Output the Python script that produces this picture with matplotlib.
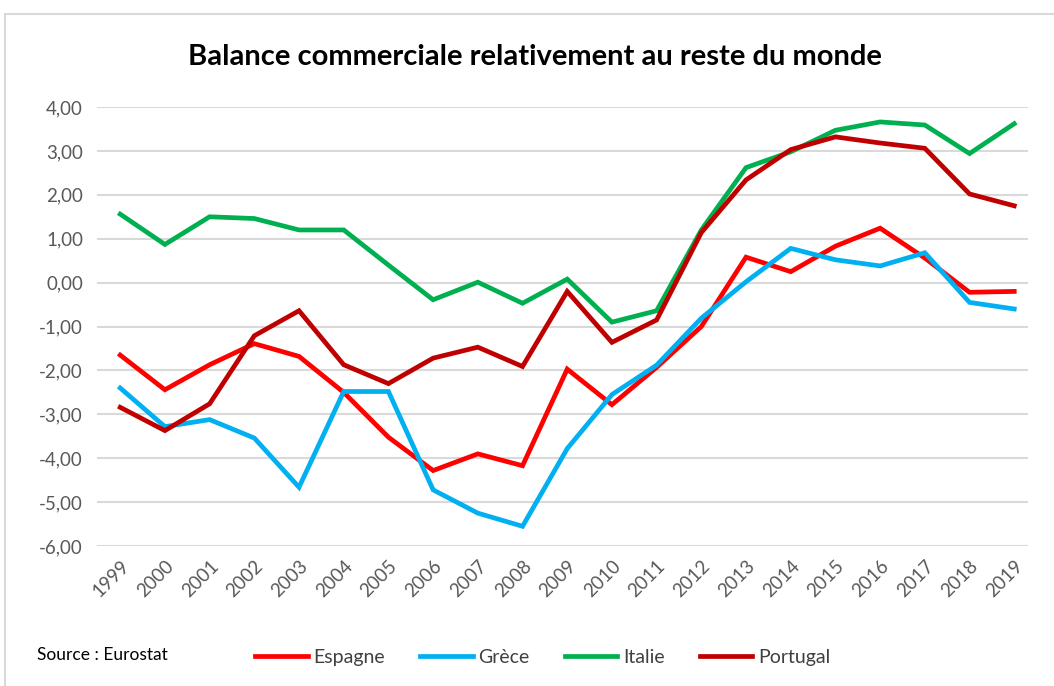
import matplotlib
matplotlib.use('Agg')
import matplotlib.pyplot as plt
from matplotlib.patches import Rectangle
from matplotlib.ticker import FuncFormatter

years = [str(y) for y in range(1999, 2020)]

espagne = [-1.65, -2.44, -1.87, -1.39, -1.68, -2.50, -3.52, -4.28, -3.90, -4.17, -1.97,
           -2.78, -1.93, -1.00, 0.58, 0.25, 0.83, 1.24, 0.56, -0.22, -0.20]
grece = [-2.40, -3.28, -3.12, -3.54, -4.66, -2.48, -2.48, -4.72, -5.25, -5.55, -3.78,
         -2.55, -1.88, -0.81, 0.02, 0.78, 0.52, 0.38, 0.68, -0.45, -0.60]
italie = [1.56, 0.87, 1.50, 1.46, 1.20, 1.20, 0.40, -0.39, 0.01, -0.47, 0.08,
          -0.90, -0.64, 1.20, 2.62, 2.98, 3.47, 3.66, 3.59, 2.94, 3.62]
portugal = [-2.84, -3.37, -2.76, -1.21, -0.64, -1.87, -2.30, -1.72, -1.47, -1.91, -0.20,
            -1.36, -0.85, 1.14, 2.34, 3.03, 3.32, 3.18, 3.06, 2.02, 1.75]

series = [
    ('Espagne', espagne, '#FF0000'),
    ('Grèce', grece, '#00B0F0'),
    ('Italie', italie, '#00B050'),
    ('Portugal', portugal, '#C00000'),
]

plt.rcParams['font.family'] = ['Lato', 'DejaVu Sans']

fig = plt.figure(figsize=(10.54, 6.86), dpi=100)
ax = fig.add_axes([0.092, 0.204, 0.883, 0.640])

# chart frame
fig.patches.append(Rectangle((5 / 1054, -0.1), 1.2, 0.98 + 0.1, transform=fig.transFigure,
                             fill=False, edgecolor='#d9d9d9', linewidth=1.5))

x = list(range(len(years)))
for name, vals, col in series:
    ax.plot(x, vals, color=col, linewidth=3.4, label=name, solid_joinstyle='miter')

ax.set_xlim(-0.52, 20.3)
ax.set_ylim(-6, 4)
ax.set_yticks(range(-6, 5))
ax.yaxis.set_major_formatter(FuncFormatter(lambda v, p: f'{v:.2f}'.replace('.', ',')))
ax.set_xticks(x)
ax.set_xticklabels(years, rotation=45, ha='right', rotation_mode='anchor')
ax.tick_params(axis='both', length=0, labelsize=13.5, labelcolor='#595959')
ax.tick_params(axis='x', pad=8)
ax.tick_params(axis='y', pad=10)
ax.grid(axis='y', color='#d9d9d9', linewidth=1.5)
ax.set_axisbelow(True)
for s in ax.spines.values():
    s.set_visible(False)

fig.text(0.508, 0.917, 'Balance commerciale relativement au reste du monde',
         ha='center', va='center', fontsize=21, fontweight='bold', color='black')
fig.text(0.035, 0.045, 'Source : Eurostat', ha='left', va='center', fontsize=12.5, color='black')

fig.legend(loc='center', bbox_to_anchor=(0.515, 0.042), ncol=4, frameon=False,
           handlelength=2.7, columnspacing=1.8, handletextpad=0.3,
           prop={'size': 14}, labelcolor='#404040')

fig.savefig('out.png', dpi=100)
